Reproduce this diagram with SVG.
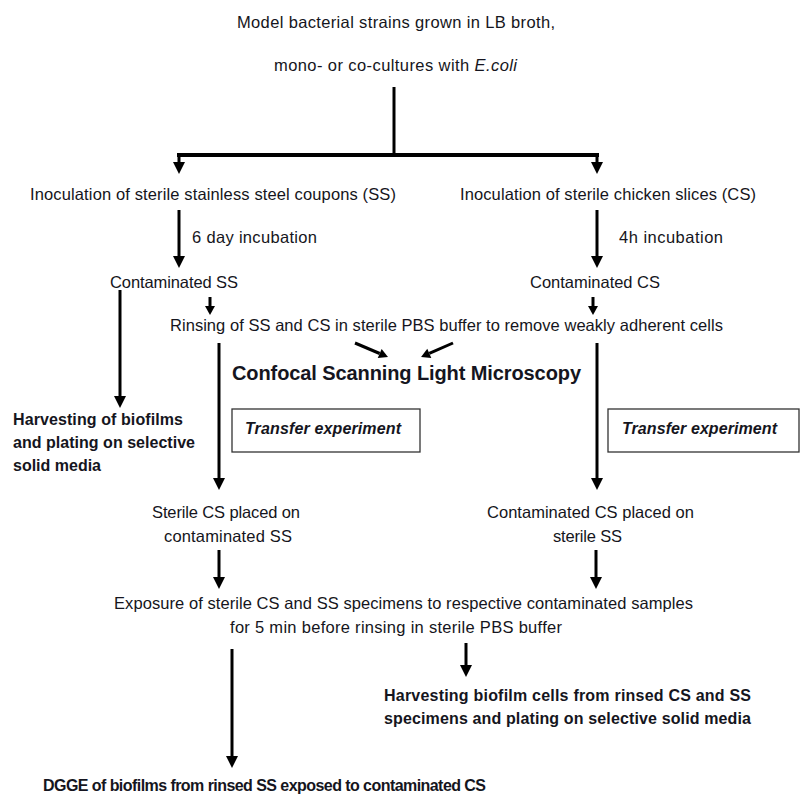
<svg xmlns="http://www.w3.org/2000/svg" width="800" height="794" viewBox="0 0 800 794">
<style>
text{font-family:"Liberation Sans",Arial,sans-serif;font-size:16.5px;fill:#151520}
.b{font-weight:bold;font-size:16px}
.bi{font-weight:bold;font-style:italic;font-size:16px}
.big{font-weight:bold;font-size:20px}
.ln{fill:none;stroke:#000;stroke-width:3}
.box{fill:#fff;stroke:#333;stroke-width:1.3}
</style>
<defs>
<marker id="ah" markerUnits="userSpaceOnUse" markerWidth="12" markerHeight="12" refX="0" refY="6" orient="auto" overflow="visible"><path d="M0,0 L12,6 L0,12 z" fill="#000"/></marker>
<marker id="ahs" markerUnits="userSpaceOnUse" markerWidth="9" markerHeight="10" refX="0" refY="5" orient="auto" overflow="visible"><path d="M0,0 L9,5 L0,10 z" fill="#000"/></marker>
</defs>
<rect width="800" height="794" fill="#fff"/>
<g id="connectors">
<path class="ln" d="M394,87 V155"/>
<path class="ln" style="stroke-width:4" d="M177,155 H599"/>
<path class="ln" d="M179,155 V162" marker-end="url(#ah)"/>
<path class="ln" d="M597,155 V162" marker-end="url(#ah)"/>
<path class="ln" d="M179,210 V256" marker-end="url(#ah)"/>
<path class="ln" d="M597,210 V256" marker-end="url(#ah)"/>
<path class="ln" d="M120,290 V396" marker-end="url(#ah)"/>
<path class="ln" d="M210,297 V306" marker-end="url(#ahs)"/>
<path class="ln" d="M593,297 V306" marker-end="url(#ahs)"/>
<path class="ln" d="M355,343 L379.7,353.5" marker-end="url(#ahs)"/>
<path class="ln" d="M453,343 L429.3,353.4" marker-end="url(#ahs)"/>
<path class="ln" d="M219,343 V478" marker-end="url(#ah)"/>
<path class="ln" d="M597,343 V478" marker-end="url(#ah)"/>
<path class="ln" d="M219,550 V577" marker-end="url(#ah)"/>
<path class="ln" d="M596,550 V577" marker-end="url(#ah)"/>
<path class="ln" d="M232,649 V756" marker-end="url(#ah)"/>
<path class="ln" d="M466,643 V665" marker-end="url(#ah)"/>
</g>
<g id="start">
<text x="237" y="28" textLength="318" lengthAdjust="spacing">Model bacterial strains grown in LB broth,</text>
<text x="274" y="71" textLength="243" lengthAdjust="spacing">mono- or co-cultures with <tspan font-style="italic">E.coli</tspan></text>
</g>
<g id="inoc-ss"><text x="30" y="200" textLength="366" lengthAdjust="spacing">Inoculation of sterile stainless steel coupons (SS)</text></g>
<g id="inoc-cs"><text x="460" y="200" textLength="296" lengthAdjust="spacing">Inoculation of sterile chicken slices (CS)</text></g>
<g id="lbl-6day"><text x="192" y="243" textLength="125" lengthAdjust="spacing">6 day incubation</text></g>
<g id="lbl-4h"><text x="619" y="243" textLength="104" lengthAdjust="spacing">4h incubation</text></g>
<g id="cont-ss"><text x="110" y="288" textLength="128" lengthAdjust="spacing">Contaminated SS</text></g>
<g id="cont-cs"><text x="530" y="288" textLength="130" lengthAdjust="spacing">Contaminated CS</text></g>
<g id="rinse"><text x="170" y="331" textLength="553" lengthAdjust="spacing">Rinsing of SS and CS in sterile PBS buffer to remove weakly adherent cells</text></g>
<g id="clsm"><text class="big" x="232" y="380" textLength="349" lengthAdjust="spacing">Confocal Scanning Light Microscopy</text></g>
<g id="harvest1">
<text class="b" x="13" y="425" textLength="170" lengthAdjust="spacing">Harvesting of biofilms</text>
<text class="b" x="13" y="448" textLength="182" lengthAdjust="spacing">and plating on selective</text>
<text class="b" x="13" y="471" textLength="88" lengthAdjust="spacing">solid media</text>
</g>
<g id="transfer-left">
<rect class="box" x="232" y="409" width="188" height="43"/>
<text class="bi" x="245" y="434" textLength="156" lengthAdjust="spacing">Transfer experiment</text>
</g>
<g id="transfer-right">
<rect class="box" x="608" y="409" width="191" height="43"/>
<text class="bi" x="622" y="434" textLength="155" lengthAdjust="spacing">Transfer experiment</text>
</g>
<g id="sterile-cs">
<text x="152" y="518" textLength="148" lengthAdjust="spacing">Sterile CS placed on</text>
<text x="164" y="542" textLength="128" lengthAdjust="spacing">contaminated SS</text>
</g>
<g id="cont-cs-placed">
<text x="487" y="518" textLength="207" lengthAdjust="spacing">Contaminated CS placed on</text>
<text x="553" y="542" textLength="69" lengthAdjust="spacing">sterile SS</text>
</g>
<g id="exposure">
<text x="114" y="609" textLength="579" lengthAdjust="spacing">Exposure of sterile CS and SS specimens to respective contaminated samples</text>
<text x="230" y="633" textLength="332" lengthAdjust="spacing">for 5 min before rinsing in sterile PBS buffer</text>
</g>
<g id="harvest2">
<text class="b" x="384" y="701" textLength="367" lengthAdjust="spacing">Harvesting biofilm cells from rinsed CS and SS</text>
<text class="b" x="384" y="724" textLength="367" lengthAdjust="spacing">specimens and plating on selective solid media</text>
</g>
<g id="dgge"><text class="b" x="43" y="791" textLength="443" lengthAdjust="spacing">DGGE of biofilms from rinsed SS exposed to contaminated CS</text></g>
</svg>
